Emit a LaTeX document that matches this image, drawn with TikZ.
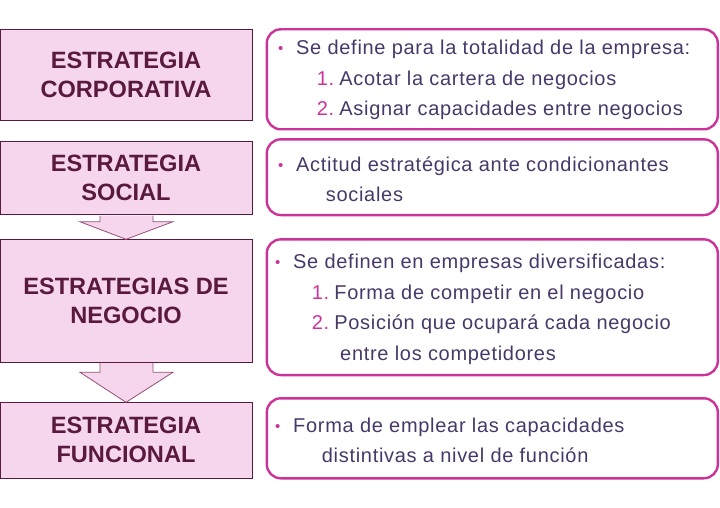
\documentclass[tikz,border=0pt]{standalone}
\usepackage{fontspec}
\setmainfont{Liberation Sans}
\newfontfamily\cuerpo[LetterSpace=3.5]{Liberation Sans}
\definecolor{rosa}{RGB}{245,214,236}
\definecolor{granate}{RGB}{90,25,62}
\definecolor{fucsia}{RGB}{204,51,153}
\definecolor{tinta}{RGB}{72,56,104}
\definecolor{contorno}{RGB}{150,80,120}
\newcommand\punto{\makebox[18pt][l]{\raisebox{1pt}{\color{fucsia}\fontsize{15}{15}\selectfont\textbullet}}}
\newcommand\orden[1]{\makebox[22.5pt][l]{\color{fucsia}#1}}
\tikzstyle{nivel}=[draw=granate,fill=rosa,line width=1pt,minimum width=252,outer sep=0pt,
  text=granate,align=center,font=\fontsize{23.6}{29}\selectfont\bfseries]
\tikzstyle{caja}=[draw=fucsia,line width=2.4pt,rounded corners=14pt,minimum width=451]
\tikzstyle{texto}=[anchor=west,inner sep=0pt,align=left,text=tinta,font=\fontsize{20}{30.5}\selectfont\cuerpo]
\tikzstyle{flecha}=[fill=rosa,draw=contorno,line width=0.8pt]

\begin{document}
\begin{tikzpicture}[x=1pt,y=-1pt]
\useasboundingbox (0,0) rectangle (720,508);
\node[nivel,minimum height=90.7] (corp) at (126,74.7) {ESTRATEGIA\\CORPORATIVA};
\node[nivel,minimum height=73.3] (soc) at (126,178.3) {ESTRATEGIA\\SOCIAL};
\node[nivel,minimum height=123] (neg) at (126,300.8) {ESTRATEGIAS DE\\NEGOCIO};
\node[nivel,minimum height=76] (fun) at (126,440.3) {ESTRATEGIA\\FUNCIONAL};
\filldraw[flecha] (soc.south) ++(-26,0.8) -- ++(0,6) -- ++(-20,0) -- (neg.north)
  -- ++(47,-17.6) -- ++(-20,0) -- ++(0,-6);
\filldraw[flecha] (neg.south) ++(-26,0.8) -- ++(0,9.2) -- ++(-20,0) -- (fun.north)
  -- ++(47,-30) -- ++(-20,0) -- ++(0,-9.2);
\node[caja,minimum height=100] (dcorp) at (492.3,79.3) {};
\node[caja,minimum height=75.7] (dsoc) at (492.3,177.2) {};
\node[caja,minimum height=135.7] (dneg) at (492.3,307.2) {};
\node[caja,minimum height=80] (dfun) at (492.3,438.3) {};
\node[texto] (tcorp) at (278,80) {\punto Se define para la totalidad de la empresa:\\
  \hspace*{38.7pt}\orden{1.}Acotar la cartera de negocios\\
  \hspace*{38.7pt}\orden{2.}Asignar capacidades entre negocios};
\node[texto] (tsoc) at (278,179) {\punto Actitud estratégica ante condicionantes\\
  \hspace*{47.7pt}sociales};
\node[texto] (tneg) at (275,309.3) {\punto Se definen en empresas diversificadas:\\
  \hspace*{36.7pt}\orden{1.}Forma de competir en el negocio\\
  \hspace*{36.7pt}\orden{2.}Posición que ocupará cada negocio\\
  \hspace*{65pt}entre los competidores};
\node[texto] (tfun) at (275,440.5) {\punto Forma de emplear las capacidades\\
  \hspace*{46.7pt}distintivas a nivel de función};
\end{tikzpicture}
\end{document}
